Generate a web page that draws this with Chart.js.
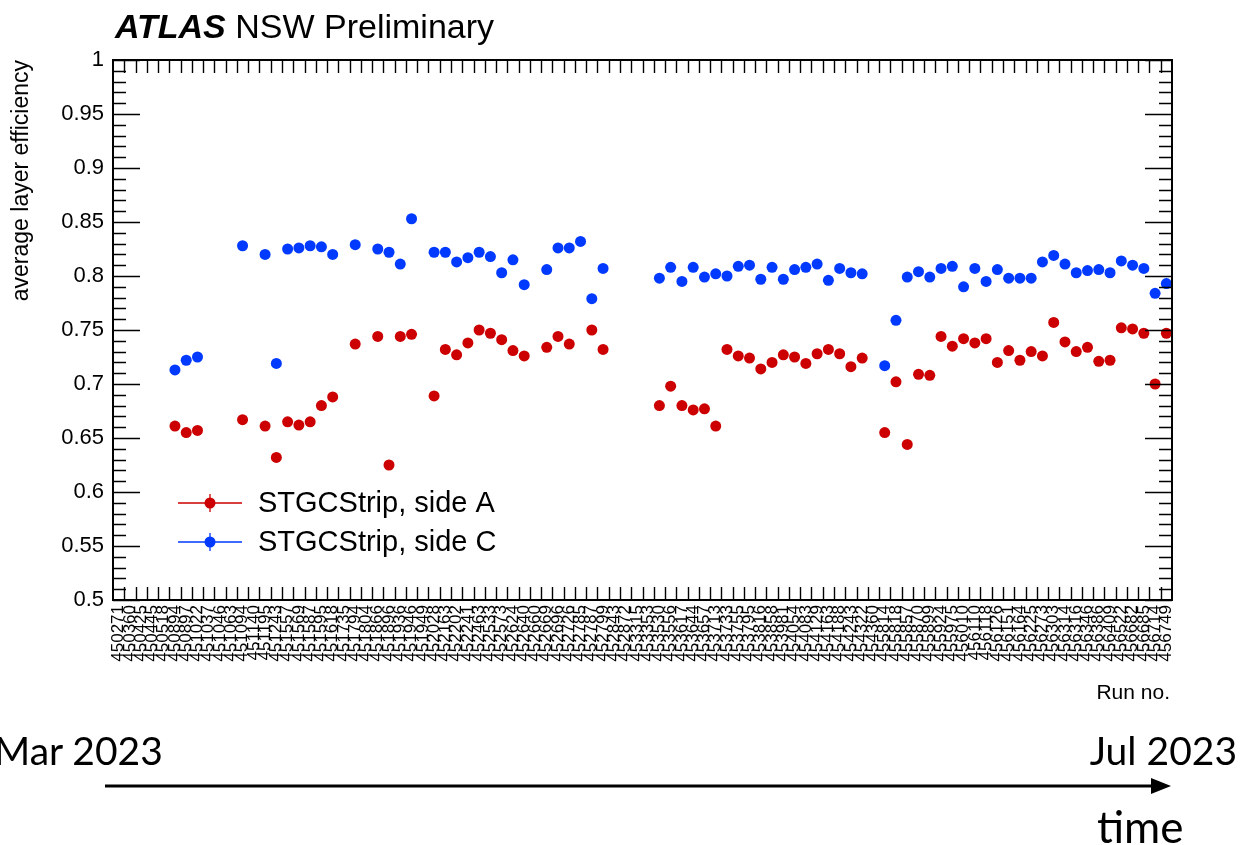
<!DOCTYPE html>
<html>
<head>
<meta charset="utf-8">
<title>sTGC strip layer efficiency</title>
<script src="https://cdn.jsdelivr.net/npm/chart.js@4.4.1/dist/chart.umd.min.js"></script>
<style>
  html, body { margin: 0; padding: 0; background: #fff; }
  #wrap { position: relative; width: 1240px; height: 845px; overflow: hidden; font-family: 'Liberation Sans', Arial, Helvetica, sans-serif; color: #000; }
  #chart { position: absolute; left: 0; top: 0; }
  .txt { position: absolute; white-space: nowrap; line-height: 1; }
  #atlas { left: 115px; top: 9px; font-size: 34px; }
  #atlas b { font-style: italic; }
  #runno { right: 70px; top: 681px; font-size: 21px; }
  .date { font-family: Lato, 'Open Sans', sans-serif; font-size: 39px; top: 731px; }
  #start { left: -6px; }
  #end { right: 3px; }
  #time { font-family: Lato, 'Open Sans', sans-serif; font-size: 44px; left: 1097px; top: 804px; }
  #arrow { position: absolute; left: 0; top: 0; }
</style>
</head>
<body>
<div id="wrap">
  <canvas id="chart" width="1240" height="845"></canvas>
  <div class="txt" id="atlas"><b>ATLAS</b> NSW Preliminary</div>
  <div class="txt" id="runno">Run no.</div>
  <div class="txt date" id="start">Mar 2023</div>
  <div class="txt date" id="end">Jul 2023</div>
  <div class="txt" id="time">time</div>
  <svg id="arrow" width="1240" height="845">
    <line x1="105" y1="786" x2="1156" y2="786" stroke="#000" stroke-width="3"/>
    <polygon points="1171,786 1151,778 1151,794" fill="#000"/>
  </svg>
</div>
<script>
// run numbers along the x axis
const runs = [
  '450271', '450360', '450425', '450445', '450518', '450894', '450897', '451022', '451037', '451046',
  '451063', '451094', '451140', '451195', '451243', '451557', '451569', '451587', '451595', '451618',
  '451735', '451794', '451804', '451866', '451896', '451936', '451946', '451949', '452028', '452163',
  '452202', '452241', '452463', '452533', '452573', '452624', '452640', '452660', '452669', '452696',
  '452726', '452785', '452787', '452799', '452843', '452872', '453315', '453353', '453530', '453556',
  '453617', '453644', '453657', '453713', '453733', '453755', '453795', '453816', '453858', '453981',
  '454054', '454083', '454129', '454163', '454188', '454243', '454322', '454360', '455814', '455818',
  '455857', '455870', '455899', '455924', '455975', '456010', '456110', '456118', '456126', '456151',
  '456164', '456225', '456273', '456303', '456314', '456316', '456346', '456386', '456409', '456522',
  '456682', '456685', '456714', '456749'
];

// average layer efficiency, side A
const sideA = [
  null, null, null, null, null, 0.661, 0.655, 0.657, null, null,
  null, 0.667, null, 0.661, 0.632, 0.665, 0.662, 0.665, 0.680, 0.688,
  null, 0.737, null, 0.744, 0.625, 0.744, 0.746, null, 0.689, 0.732,
  0.727, 0.738, 0.750, 0.747, 0.741, 0.731, 0.726, null, 0.734, 0.744,
  0.737, null, 0.750, 0.732, null, null, null, null, 0.680, 0.698,
  0.680, 0.676, 0.677, 0.661, 0.732, 0.726, 0.724, 0.714, 0.720, 0.727,
  0.725, 0.719, 0.728, 0.732, 0.728, 0.716, 0.724, null, 0.655, 0.702,
  0.644, 0.709, 0.708, 0.744, 0.735, 0.742, 0.738, 0.742, 0.720, 0.731,
  0.722, 0.730, 0.726, 0.757, 0.739, 0.730, 0.734, 0.721, 0.722, 0.752,
  0.751, 0.747, 0.700, 0.747
];

// average layer efficiency, side C
const sideC = [
  null, null, null, null, null, 0.713, 0.722, 0.725, null, null,
  null, 0.828, null, 0.820, 0.719, 0.825, 0.826, 0.828, 0.827, 0.820,
  null, 0.829, null, 0.825, 0.822, 0.811, 0.853, null, 0.822, 0.822,
  0.813, 0.817, 0.822, 0.818, 0.803, 0.815, 0.792, null, 0.806, 0.826,
  0.826, 0.832, 0.779, 0.807, null, null, null, null, 0.798, 0.808,
  0.795, 0.808, 0.799, 0.802, 0.800, 0.809, 0.810, 0.797, 0.808, 0.797,
  0.806, 0.808, 0.811, 0.796, 0.807, 0.803, 0.802, null, 0.717, 0.759,
  0.799, 0.804, 0.799, 0.807, 0.809, 0.790, 0.807, 0.795, 0.806, 0.798,
  0.798, 0.798, 0.813, 0.819, 0.811, 0.803, 0.805, 0.806, 0.803, 0.814,
  0.810, 0.807, 0.784, 0.793
];

const RED = '#cc0000';
const BLUE = '#0039ff';
const FONT = "'Liberation Sans', Arial, Helvetica, sans-serif";

// ROOT-style frame: box plus inward ticks on all four sides
const frameTicks = {
  id: 'frameTicks',
  afterDatasetsDraw(chart) {
    const { ctx, chartArea: a, scales: { x, y } } = chart;
    ctx.save();
    ctx.strokeStyle = '#000';
    ctx.lineWidth = 1.4;
    ctx.beginPath();
    for (let k = 0; k <= 50; k++) {
      const py = Math.round(y.getPixelForValue(0.5 + k * 0.01)) + 0.5;
      const len = k % 5 === 0 ? 27 : 13;
      ctx.moveTo(a.left, py); ctx.lineTo(a.left + len, py);
      ctx.moveTo(a.right, py); ctx.lineTo(a.right - len, py);
    }
    // tick marks sit on the bin edges
    for (let i = 1; i < runs.length; i++) {
      const px = Math.round((x.getPixelForValue(i - 1) + x.getPixelForValue(i)) / 2) + 0.5;
      ctx.moveTo(px, a.bottom); ctx.lineTo(px, a.bottom - 13);
      ctx.moveTo(px, a.top); ctx.lineTo(px, a.top + 13);
    }
    ctx.stroke();
    ctx.lineWidth = 2;
    ctx.strokeRect(a.left, a.top, a.right - a.left, a.bottom - a.top);
    ctx.restore();
  }
};

// legend inside the frame, marker with error-bar line
const markerLegend = {
  id: 'markerLegend',
  afterDraw(chart) {
    const { ctx, chartArea: a } = chart;
    ctx.save();
    chart.data.datasets.forEach((ds, k) => {
      const cy = a.top + 443 + k * 39;
      const x0 = a.left + 65, x1 = a.left + 129, xm = (x0 + x1) / 2;
      ctx.strokeStyle = ds.borderColor;
      ctx.lineWidth = 1.3;
      ctx.beginPath();
      ctx.moveTo(x0, cy); ctx.lineTo(x1, cy);
      ctx.moveTo(xm, cy - 9); ctx.lineTo(xm, cy + 9);
      ctx.stroke();
      ctx.fillStyle = ds.backgroundColor;
      ctx.beginPath();
      ctx.arc(xm, cy, ds.pointRadius, 0, Math.PI * 2);
      ctx.fill();
      ctx.fillStyle = '#000';
      ctx.font = '29px ' + FONT;
      ctx.textBaseline = 'middle';
      ctx.fillText(ds.label, a.left + 145, cy + 1);
    });
    ctx.restore();
  }
};

new Chart(document.getElementById('chart'), {
  type: 'line',
  data: {
    labels: runs,
    datasets: [
      { label: 'STGCStrip, side A', data: sideA, borderColor: RED, backgroundColor: RED,
        showLine: false, pointRadius: 5.5, pointBorderWidth: 0, pointHoverRadius: 5.5 },
      { label: 'STGCStrip, side C', data: sideC, borderColor: BLUE, backgroundColor: BLUE,
        showLine: false, pointRadius: 5.5, pointBorderWidth: 0, pointHoverRadius: 5.5 }
    ]
  },
  options: {
    responsive: false,
    animation: false,
    events: [],
    layout: { padding: { top: 60, right: 68, left: 0, bottom: 0 } },
    plugins: { legend: { display: false }, tooltip: { enabled: false } },
    scales: {
      x: {
        type: 'category',
        offset: true,
        grid: { display: false, drawTicks: false },
        border: { display: false },
        ticks: {
          autoSkip: false, minRotation: 90, maxRotation: 90, padding: 5,
          color: '#000', font: { family: FONT, size: 17 }
        },
        afterFit(s) { s.height = 245; }
      },
      y: {
        min: 0.5,
        max: 1,
        grid: { display: false, drawTicks: false },
        border: { display: false },
        ticks: {
          stepSize: 0.05, padding: 9, color: '#000', font: { family: FONT, size: 22 },
          callback: v => String(+v.toFixed(2))
        },
        title: {
          display: true, text: 'average layer efficiency', align: 'end', color: '#000',
          font: { family: FONT, size: 23 }, padding: { top: 8, bottom: 0 }
        },
        afterFit(s) { s.width = 113; }
      }
    }
  },
  plugins: [frameTicks, markerLegend]
});
</script>
</body>
</html>
